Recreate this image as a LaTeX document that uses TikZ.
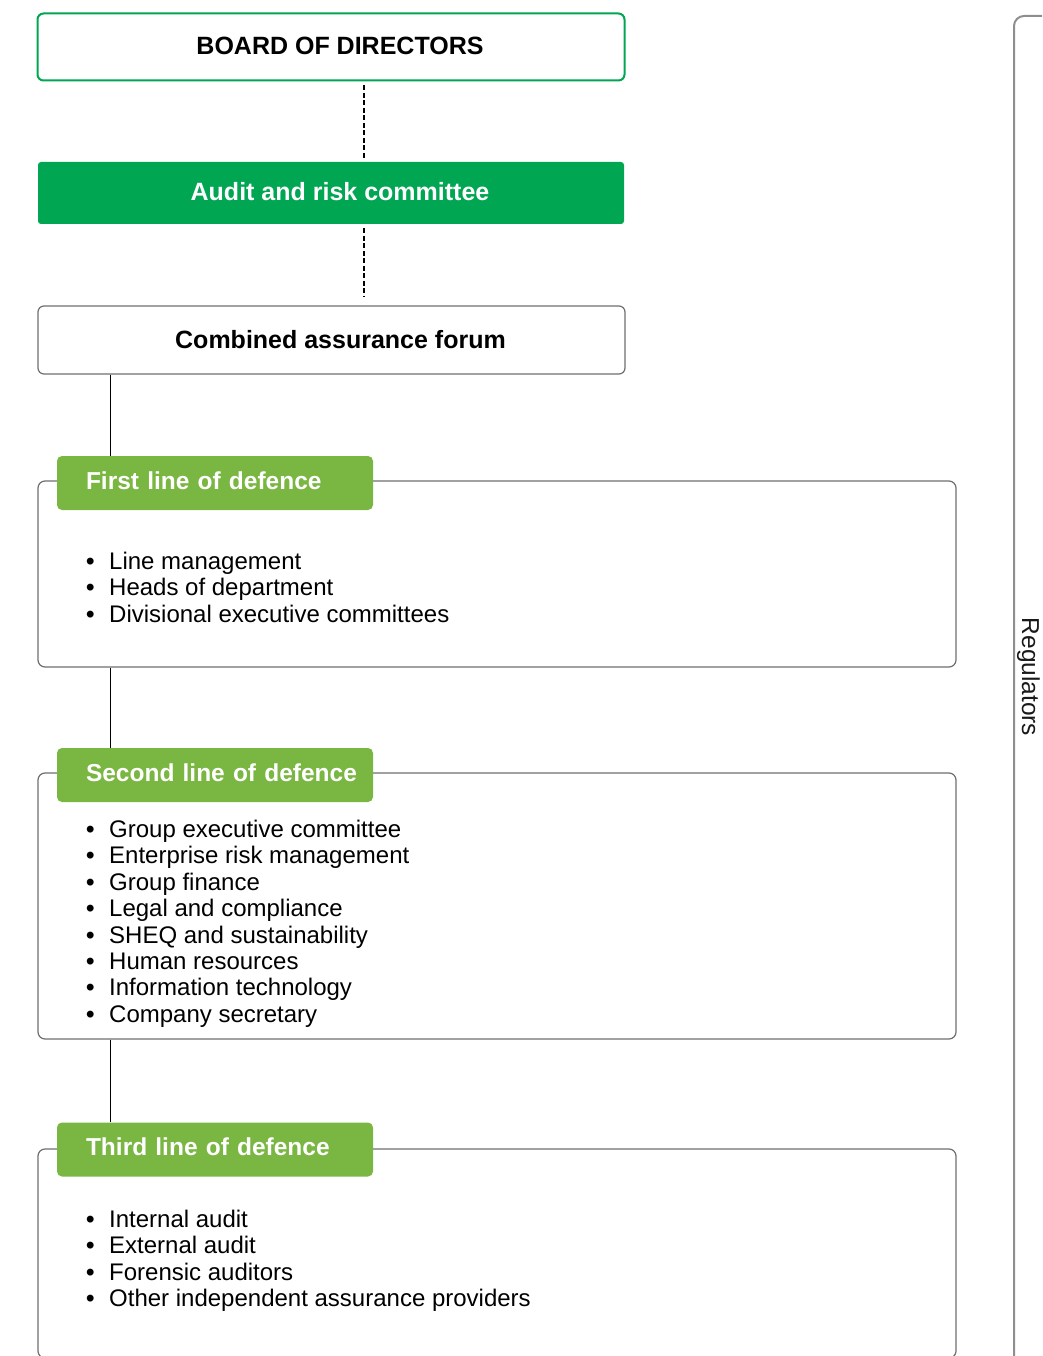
\documentclass[tikz,border=0pt]{standalone}
\usepackage{fontspec}
\setmainfont{Liberation Sans}
\definecolor{dgreen}{HTML}{00A651}
\definecolor{lgreen}{HTML}{7AB642}
\definecolor{boxgray}{HTML}{6E6E6E}
\definecolor{reggray}{HTML}{8E8E8E}
\newcommand{\bul}{\makebox[23pt][l]{\textbf{\textbullet}}}
\begin{document}
\begin{tikzpicture}[x=1pt,y=-1pt,
  headfont/.style={font=\fontsize{25}{28}\selectfont\bfseries},
  board/.style={draw=dgreen, line width=2pt, rounded corners=6pt, minimum width=587pt, minimum height=67pt, inner sep=0pt, text height=18pt, text depth=2pt, headfont},
  audit/.style={fill=dgreen, rounded corners=3pt, minimum width=586pt, minimum height=62pt, inner sep=0pt, text height=18pt, text depth=2pt, headfont, text=white},
  forum/.style={draw=boxgray, line width=1.2pt, rounded corners=6pt, minimum width=587pt, minimum height=68pt, inner sep=0pt, text height=18pt, text depth=2pt, headfont},
  dashline/.style={draw=black, line width=1.3pt, dash pattern=on 5pt off 2.5pt},
  conn/.style={draw=black, line width=1pt},
  secbox/.style={draw=boxgray, line width=1.2pt, rounded corners=7pt, minimum width=918pt, inner sep=0pt},
  tab/.style={fill=lgreen, rounded corners=5pt, text width=258pt, inner xsep=29pt, inner ysep=0pt, minimum height=54pt, text height=18pt, text depth=6pt, align=left, font=\fontsize{24.5}{28}\selectfont\bfseries, text=white},
  listtext/.style={font=\fontsize{24}{26.4}\selectfont, inner sep=0pt, anchor=base west},
  regbox/.style={draw=reggray, line width=2pt, rounded corners=10pt, inner sep=0pt},
  regtext/.style={font=\fontsize{24.5}{28}\selectfont, text=black!90, inner sep=0pt}
]
\useasboundingbox (0,0) rectangle (1042,1356);
\clip (0,0) rectangle (1042,1356);

% regulators frame
\node[regbox, anchor=north west, minimum width=200pt, minimum height=1500pt] (reg) at (1013,15) {};
\node[regtext, rotate=-90, anchor=base] (regl) at (1022,677) {Regulators};

% top boxes
\node[board] (board) at (331,47) {\hspace*{18pt}BOARD OF DIRECTORS};
\node[audit] (audit) at (331,193) {\hspace*{18pt}Audit and risk committee};
\node[forum] (forum) at (331.5,340) {\hspace*{18pt}Combined assurance forum};

\coordinate (dx) at (364,0);
\coordinate (lx) at (110,0);
\draw[dashline, shorten <=4pt, shorten >=2pt] (dx |- board.south) -- (dx |- audit.north);
\draw[dashline, shorten <=4pt, shorten >=8pt] (dx |- audit.south) -- (dx |- forum.north);

% section boxes
\node[secbox, minimum height=186pt] (box1) at (497,574) {};
\node[secbox, minimum height=266pt] (box2) at (497,906) {};
\node[secbox, minimum height=209pt] (box3) at (497,1253.5) {};

\node[tab] (tab1) at (215,483) {\mbox{First line of defence}};
\node[tab] (tab2) at (215,775) {\mbox{Second line of defence}};
\node[tab] (tab3) at (215,1149.5) {\mbox{Third line of defence}};

\draw[conn] (lx |- forum.south) -- (lx |- tab1.north);
\draw[conn] (lx |- box1.south) -- (lx |- tab2.north);
\draw[conn] (lx |- box2.south) -- (lx |- tab3.north);

% lists
\node[listtext] (list1) at (86,569.5) {\begin{tabular}[t]{@{}l@{}}
\bul Line management\\
\bul Heads of department\\
\bul Divisional executive committees
\end{tabular}};
\node[listtext] (list2) at (86,837.5) {\begin{tabular}[t]{@{}l@{}}
\bul Group executive committee\\
\bul Enterprise risk management\\
\bul Group finance\\
\bul Legal and compliance\\
\bul SHEQ and sustainability\\
\bul Human resources\\
\bul Information technology\\
\bul Company secretary
\end{tabular}};
\node[listtext] (list3) at (86,1227.5) {\begin{tabular}[t]{@{}l@{}}
\bul Internal audit\\
\bul External audit\\
\bul Forensic auditors\\
\bul Other independent assurance providers
\end{tabular}};
\end{tikzpicture}
\end{document}
